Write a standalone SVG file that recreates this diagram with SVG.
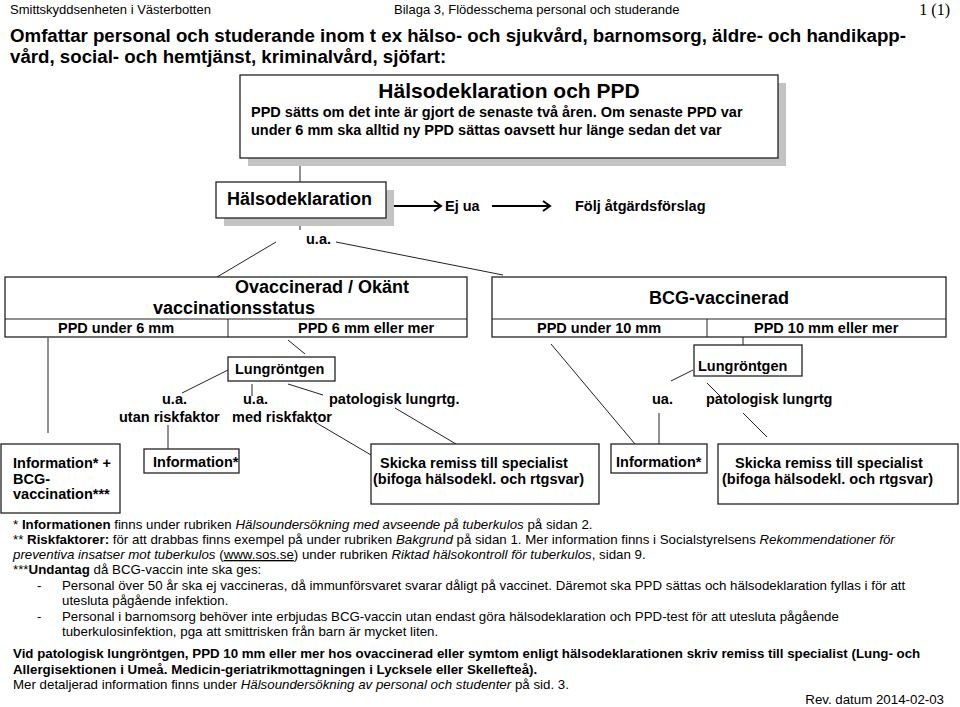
<svg xmlns="http://www.w3.org/2000/svg" width="960" height="707" viewBox="0 0 960 707">
<style>
  text { font-family: "Liberation Sans", Arial, sans-serif; fill: #000; }
  .hd { font-size: 13px; }
  .pg { font-family: "Liberation Serif", "Times New Roman", serif; font-size: 16px; }
  .tt { font-size: 18.7px; font-weight: bold; }
  .b { font-size: 14.5px; font-weight: bold; }
  .h18 { font-size: 18px; font-weight: bold; }
  .h21 { font-size: 21px; font-weight: bold; }
  .fn { font-size: 13.3px; }
  .fb { font-weight: bold; }
  .fi { font-style: italic; }
  .box { fill: #fff; stroke: #222; stroke-width: 1.3; }
  .sh { fill: #c3c3c3; }
  .ln { stroke: #222; stroke-width: 1; fill: none; }
  .ar { stroke: #000; stroke-width: 2; fill: none; }
</style>
<defs>
  <marker id="chev" markerUnits="userSpaceOnUse" markerWidth="12" markerHeight="12" refX="9" refY="6" orient="auto">
    <path d="M2,1 L9,6 L2,11" fill="none" stroke="#000" stroke-width="2"/>
  </marker>
</defs>
<rect width="960" height="707" fill="#fff"/>

<g id="header">
  <text class="hd" x="10" y="14">Smittskyddsenheten i Västerbotten</text>
  <text class="hd" x="394" y="14">Bilaga 3, Flödesschema personal och studerande</text>
  <text class="pg" x="950" y="15" text-anchor="end">1 (1)</text>
  <text class="tt" x="10" y="42" textLength="896" lengthAdjust="spacing">Omfattar personal och studerande inom t ex hälso- och sjukvård, barnomsorg, äldre- och handikapp-</text>
  <text class="tt" x="10" y="63">vård, social- och hemtjänst, kriminalvård, sjöfart:</text>
</g>

<g id="connectors">
  <line class="ln" x1="300" y1="158" x2="300" y2="182"/>
  <line class="ln" x1="300" y1="218" x2="300" y2="230"/>
  <line class="ln" x1="276" y1="242" x2="217" y2="277"/>
  <line class="ln" x1="336" y1="242" x2="503" y2="275"/>
  <line class="ar" x1="386" y1="206" x2="441" y2="206" marker-end="url(#chev)"/>
  <line class="ar" x1="492" y1="206" x2="550" y2="206" marker-end="url(#chev)"/>
  <line class="ln" x1="288" y1="340" x2="305" y2="354"/>
  <line class="ln" x1="48" y1="338" x2="48" y2="433"/>
  <line class="ln" x1="228" y1="370" x2="182" y2="393"/>
  <line class="ln" x1="252" y1="384" x2="252" y2="396"/>
  <line class="ln" x1="288" y1="384" x2="323" y2="395"/>
  <line class="ln" x1="168" y1="425" x2="168" y2="449"/>
  <line class="ln" x1="315" y1="422" x2="371" y2="455"/>
  <line class="ln" x1="395" y1="408" x2="456" y2="444"/>
  <line class="ln" x1="743" y1="337" x2="743" y2="345"/>
  <line class="ln" x1="551" y1="344" x2="635" y2="444"/>
  <line class="ln" x1="693" y1="370" x2="671" y2="381"/>
  <line class="ln" x1="707" y1="383" x2="720" y2="396"/>
  <line class="ln" x1="659" y1="413" x2="659" y2="444"/>
  <line class="ln" x1="743" y1="413" x2="767" y2="437"/>
</g>

<g id="n-top">
  <rect class="sh" x="248" y="83" width="538" height="83"/>
  <rect class="box" x="240" y="75" width="538" height="83" stroke-width="1.6"/>
  <text class="h21" x="509" y="98" text-anchor="middle">Hälsodeklaration och PPD</text>
  <text class="b" x="251" y="117">PPD sätts om det inte är gjort de senaste två åren. Om senaste PPD var</text>
  <text class="b" x="251" y="135">under 6 mm ska alltid ny PPD sättas oavsett hur länge sedan det var</text>
</g>

<g id="n-halsodekl">
  <rect class="sh" x="224" y="190" width="170" height="36"/>
  <rect class="box" x="216" y="182" width="170" height="36"/>
  <text class="h18" x="227" y="205">Hälsodeklaration</text>
</g>

<g id="n-ejua"><text class="b" x="445" y="211">Ej ua</text></g>
<g id="n-folj"><text class="b" x="575" y="211">Följ åtgärdsförslag</text></g>
<g id="n-ua"><text class="b" x="306" y="244">u.a.</text></g>

<g id="n-ovacc">
  <rect class="box" x="5" y="277" width="462" height="60"/>
  <line class="ln" x1="5" y1="319" x2="467" y2="319"/>
  <line class="ln" x1="228" y1="319" x2="228" y2="337"/>
  <text class="h18" x="235" y="293">Ovaccinerad / Okänt</text>
  <text class="h18" x="153" y="314">vaccinationsstatus</text>
  <text class="b" x="58" y="333">PPD under 6 mm</text>
  <text class="b" x="298" y="333">PPD 6 mm eller mer</text>
</g>

<g id="n-bcg">
  <rect class="box" x="492" y="277" width="454" height="60"/>
  <line class="ln" x1="492" y1="319" x2="946" y2="319"/>
  <line class="ln" x1="707" y1="319" x2="707" y2="337"/>
  <text class="h18" x="719" y="304" text-anchor="middle">BCG-vaccinerad</text>
  <text class="b" x="537" y="333">PPD under 10 mm</text>
  <text class="b" x="754" y="333">PPD 10 mm eller mer</text>
</g>

<g id="n-lung1">
  <rect class="box" x="228" y="357" width="107" height="24"/>
  <text class="b" x="235" y="374">Lungröntgen</text>
</g>
<g id="n-lung2">
  <rect class="box" x="694" y="345" width="108" height="31"/>
  <text class="b" x="698" y="371">Lungröntgen</text>
</g>

<g id="labels">
  <text class="b" x="162" y="404">u.a.</text>
  <text class="b" x="119" y="422">utan riskfaktor</text>
  <text class="b" x="243" y="404">u.a.</text>
  <text class="b" x="232" y="422">med riskfaktor</text>
  <text class="b" x="329" y="404">patologisk lungrtg.</text>
  <text class="b" x="652" y="404">ua.</text>
  <text class="b" x="706" y="404">patologisk lungrtg</text>
</g>

<g id="n-infobcg">
  <rect class="box" x="1" y="444" width="119" height="69"/>
  <text class="b" x="13" y="468">Information* +</text>
  <text class="b" x="13" y="484">BCG-</text>
  <text class="b" x="13" y="499">vaccination***</text>
</g>
<g id="n-info1">
  <rect class="box" x="144" y="449" width="95" height="24"/>
  <text class="b" x="153" y="467">Information*</text>
</g>
<g id="n-remiss1">
  <rect class="box" x="371" y="444" width="228" height="60"/>
  <text class="b" x="380" y="468">Skicka remiss till specialist</text>
  <text class="b" x="373" y="484">(bifoga hälsodekl. och rtgsvar)</text>
</g>
<g id="n-info2">
  <rect class="box" x="611" y="444" width="96" height="29"/>
  <text class="b" x="616" y="467">Information*</text>
</g>
<g id="n-remiss2">
  <rect class="box" x="718" y="444" width="240" height="60"/>
  <text class="b" x="735" y="468">Skicka remiss till specialist</text>
  <text class="b" x="722" y="484">(bifoga hälsodekl. och rtgsvar)</text>
</g>

<g id="footnotes" class="fn">
  <text class="fn" x="13" y="529">* <tspan class="fb">Informationen</tspan> finns under rubriken <tspan class="fi">Hälsoundersökning med avseende på tuberkulos</tspan> på sidan 2.</text>
  <text class="fn" x="13" y="544">** <tspan class="fb">Riskfaktorer:</tspan> för att drabbas finns exempel på under rubriken <tspan class="fi">Bakgrund</tspan> på sidan 1. Mer information finns i Socialstyrelsens <tspan class="fi">Rekommendationer för</tspan></text>
  <text class="fn" x="13" y="559"><tspan class="fi">preventiva insatser mot tuberkulos</tspan> (<tspan text-decoration="underline">www.sos.se</tspan>) under rubriken <tspan class="fi">Riktad hälsokontroll för tuberkulos</tspan>, sidan 9.</text>
  <text class="fn" x="13" y="574">***<tspan class="fb">Undantag</tspan> då BCG-vaccin inte ska ges:</text>
  <text class="fn" x="37" y="590">-</text>
  <text class="fn" x="62" y="590">Personal över 50 år ska ej vaccineras, då immunförsvaret svarar dåligt på vaccinet. Däremot ska PPD sättas och hälsodeklaration fyllas i för att</text>
  <text class="fn" x="62" y="605">utesluta pågående infektion.</text>
  <text class="fn" x="37" y="621">-</text>
  <text class="fn" x="62" y="621">Personal i barnomsorg behöver inte erbjudas BCG-vaccin utan endast göra hälsodeklaration och PPD-test för att utesluta pågående</text>
  <text class="fn" x="62" y="636">tuberkulosinfektion, pga att smittrisken från barn är mycket liten.</text>
  <text class="fn fb" x="13" y="658">Vid patologisk lungröntgen, PPD 10 mm eller mer hos ovaccinerad eller symtom enligt hälsodeklarationen skriv remiss till specialist (Lung- och</text>
  <text class="fn fb" x="13" y="674">Allergisektionen i Umeå. Medicin-geriatrikmottagningen i Lycksele eller Skellefteå).</text>
  <text class="fn" x="13" y="689">Mer detaljerad information finns under <tspan class="fi">Hälsoundersökning av personal och studenter</tspan> på sid. 3.</text>
  <text class="fn" x="944" y="704" text-anchor="end">Rev. datum 2014-02-03</text>
</g>
</svg>
